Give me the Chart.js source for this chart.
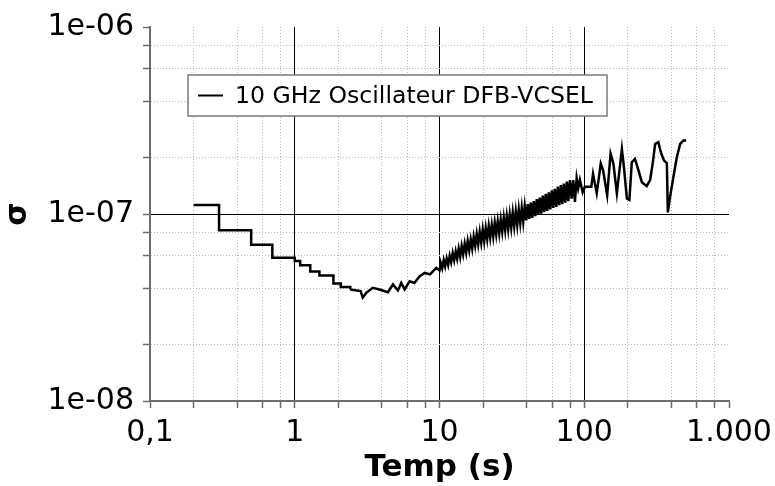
<!DOCTYPE html>
<html>
<head>
<meta charset="utf-8">
<script src="https://cdn.jsdelivr.net/npm/chart.js@4"></script>
<style>
  html, body { margin: 0; padding: 0; background: #fff; }
  #wrap { width: 775px; height: 486px; }
</style>
</head>
<body>
<div id="wrap"><canvas id="chart" width="775" height="486"></canvas></div>
<script>
const seriesLabel = '10 GHz Oscillateur DFB-VCSEL';

// short averaging times: value held until the next tau (staircase)
const tauStep = [0.2, 0.3, 0.5, 0.7, 1.0, 1.09, 1.28, 1.48, 1.85, 2.08, 2.42];
const sigmaStep = [1.116e-7, 0.818e-7, 0.685e-7, 0.584e-7, 0.561e-7, 0.532e-7, 0.493e-7, 0.469e-7, 0.425e-7, 0.407e-7, 0.395e-7];

// rest of the curve
const tauMain = [2.85, 2.95, 3.12, 3.46, 3.85, 4.4, 4.77, 5.16, 5.44, 5.74, 6.22, 6.7, 7.3, 7.9, 8.6, 9.5, 10.0,
  10.19, 10.44, 10.69, 10.94, 11.21, 11.48, 11.76, 12.04, 12.33, 12.63, 12.94, 13.25, 13.57, 13.90, 14.23, 14.58,
  14.93, 15.29, 15.66, 16.04, 16.43, 16.83, 17.23, 17.65, 18.08, 18.51, 18.96, 19.42, 19.89, 20.37, 20.86, 21.37,
  21.88, 22.41, 22.95, 23.51, 24.08, 24.66, 25.26, 25.87, 26.49, 27.13, 27.79, 28.46, 29.15, 29.85, 30.57, 31.31,
  32.07, 32.84, 33.64, 34.45, 35.28, 36.14, 37.01, 37.90, 38.82, 39.76, 40.72, 41.70, 42.71, 43.75, 44.80, 45.89,
  47.00, 48.13, 49.30, 50.49, 51.71, 52.96, 54.24, 55.55, 56.90, 58.27, 59.68, 61.13, 62.61, 64.12, 65.67, 67.26,
  68.89, 70.55, 72.26, 74.01, 75.80, 77.63,
  79.6, 81.8, 83.9, 86.2, 88.6, 90.8, 93.3, 97.5, 101, 112, 115, 122, 130, 135, 144, 152, 159, 168, 182, 188, 197, 205,
  213, 224, 237, 250, 270, 285, 297, 309, 325, 338, 356, 372, 378, 392, 413, 436, 460, 484, 506];
const sigmaMain = [0.387e-7, 0.357e-7, 0.379e-7, 0.403e-7, 0.395e-7, 0.382e-7, 0.42e-7, 0.39e-7, 0.428e-7, 0.395e-7,
  0.437e-7, 0.428e-7, 0.465e-7, 0.484e-7, 0.475e-7, 0.515e-7, 0.499e-7,
  0.548e-7, 0.513e-7, 0.567e-7, 0.524e-7, 0.579e-7, 0.535e-7, 0.598e-7, 0.553e-7, 0.618e-7, 0.565e-7, 0.631e-7, 0.577e-7,
  0.653e-7, 0.589e-7, 0.675e-7, 0.609e-7, 0.693e-7, 0.622e-7, 0.717e-7, 0.639e-7, 0.732e-7, 0.653e-7, 0.756e-7, 0.675e-7,
  0.782e-7, 0.689e-7, 0.803e-7, 0.703e-7, 0.826e-7, 0.715e-7, 0.841e-7, 0.734e-7, 0.863e-7, 0.748e-7, 0.874e-7, 0.758e-7,
  0.897e-7, 0.777e-7, 0.914e-7, 0.787e-7, 0.932e-7, 0.803e-7, 0.956e-7, 0.818e-7, 0.974e-7, 0.829e-7, 0.993e-7, 0.845e-7,
  1.018e-7, 0.861e-7, 1.032e-7, 0.873e-7, 1.058e-7, 0.895e-7, 1.079e-7, 0.907e-7, 1.100e-7, 0.924e-7, 1.128e-7, 0.942e-7,
  1.149e-7, 0.954e-7, 1.172e-7, 0.973e-7, 1.202e-7, 0.992e-7, 1.225e-7, 1.005e-7, 1.256e-7, 1.024e-7, 1.281e-7, 1.038e-7,
  1.305e-7, 1.058e-7, 1.339e-7, 1.078e-7, 1.365e-7, 1.092e-7, 1.400e-7, 1.114e-7, 1.427e-7, 1.128e-7, 1.454e-7, 1.150e-7,
  1.491e-7, 1.172e-7,
  1.52e-7, 1.21e-7, 1.52e-7, 1.16e-7, 1.55e-7, 1.37e-7, 1.52e-7, 1.31e-7, 1.40e-7, 1.40e-7, 1.64e-7, 1.29e-7, 1.86e-7,
  1.71e-7, 1.26e-7, 2.10e-7, 1.86e-7, 1.29e-7, 2.23e-7, 1.78e-7, 1.21e-7, 1.19e-7, 1.89e-7, 1.97e-7, 1.71e-7, 1.48e-7,
  1.41e-7, 1.52e-7, 1.86e-7, 2.37e-7, 2.42e-7, 2.14e-7, 1.93e-7, 1.87e-7, 1.02e-7, 1.24e-7, 1.58e-7, 2.01e-7, 2.37e-7,
  2.47e-7, 2.47e-7];

const xDecades = [0.1, 1, 10, 100, 1000];
const xTickLabels = ['0,1', '1', '10', '100', '1.000'];
const yDecades = [1e-8, 1e-7, 1e-6];
const yTickLabels = ['1e-08', '1e-07', '1e-06'];
const minorSteps = [2, 4, 6, 8];

const FONT = '"DejaVu Sans", Verdana, sans-serif';

function makeTicks(decades, labels) {
  const out = [];
  decades.forEach((d, i) => {
    const edge = i === 0 || i === decades.length - 1;
    out.push({ value: d, major: true, edge: edge, text: labels[i] });
    if (i < decades.length - 1) {
      minorSteps.forEach(m => out.push({ value: d * m, major: false, edge: false, text: '' }));
    }
  });
  return out;
}

function gridColor(c) {
  const t = c.tick;
  if (!t || t.edge) return 'rgba(0,0,0,0)';
  return t.major ? '#000' : '#b9b9b9';
}
function gridDash(c) {
  return c.tick && !c.tick.major ? [1, 2] : [];
}

const stepData = tauStep.map((t, i) => ({ x: t, y: sigmaStep[i] }));
const mainData = [stepData[stepData.length - 1]].concat(tauMain.map((t, i) => ({ x: t, y: sigmaMain[i] })));

const legendBox = {
  id: 'legendBox',
  afterDraw(chart) {
    const ctx = chart.ctx;
    const a = chart.chartArea;
    ctx.save();
    ctx.font = '23.6px ' + FONT;
    const tw = ctx.measureText(seriesLabel).width;
    const x = a.left + 38, y = a.top + 48, h = 41;
    const w = 10 + 25 + 12 + tw + 14;
    ctx.fillStyle = '#fff';
    ctx.fillRect(x, y, w, h);
    ctx.strokeStyle = '#7a7a7a';
    ctx.lineWidth = 1.5;
    ctx.strokeRect(x, y, w, h);
    ctx.strokeStyle = '#000';
    ctx.lineWidth = 2;
    ctx.beginPath();
    ctx.moveTo(x + 10, y + h / 2);
    ctx.lineTo(x + 35, y + h / 2);
    ctx.stroke();
    ctx.fillStyle = '#000';
    ctx.textBaseline = 'middle';
    ctx.fillText(seriesLabel, x + 47, y + h / 2 + 1);
    ctx.restore();
  }
};

new Chart(document.getElementById('chart'), {
  type: 'line',
  data: {
    datasets: [
      {
        label: seriesLabel,
        data: stepData,
        stepped: true,
        borderColor: '#000',
        borderWidth: 2.5,
        pointRadius: 0,
        fill: false
      },
      {
        label: seriesLabel,
        data: mainData,
        borderColor: '#000',
        borderWidth: 2.5,
        pointRadius: 0,
        tension: 0,
        fill: false
      }
    ]
  },
  options: {
    responsive: false,
    animation: false,
    layout: { padding: { top: 24, right: 46, left: 0, bottom: 0 } },
    plugins: {
      legend: { display: false },
      tooltip: { enabled: false }
    },
    scales: {
      x: {
        type: 'logarithmic',
        min: 0.1,
        max: 1000,
        afterBuildTicks: (s) => { s.ticks = makeTicks(xDecades, xTickLabels); },
        afterFit: (s) => { s.height = 85; s.paddingRight = 0; },
        ticks: {
          autoSkip: false,
          maxRotation: 0,
          padding: 7,
          color: '#000',
          font: { family: FONT, size: 30 },
          callback: (v, i, t) => t[i].text
        },
        grid: { color: gridColor, lineWidth: 1, tickLength: 7, tickColor: '#6e6e6e', tickWidth: 1.5 },
        border: { color: '#6e6e6e', width: 2, dash: gridDash },
        title: {
          display: true,
          text: 'Temp (s)',
          color: '#000',
          font: { family: FONT, size: 31, weight: 'bold' },
          padding: { top: 0, bottom: -1 }
        }
      },
      y: {
        type: 'logarithmic',
        min: 1e-8,
        max: 1e-6,
        afterBuildTicks: (s) => { s.ticks = makeTicks(yDecades, yTickLabels); },
        afterFit: (s) => { s.width = 150; },
        ticks: {
          autoSkip: false,
          padding: 9,
          color: '#000',
          font: { family: FONT, size: 30 },
          callback: (v, i, t) => t[i].text
        },
        grid: { color: gridColor, lineWidth: 1, tickLength: 7, tickColor: '#6e6e6e', tickWidth: 1.5 },
        border: { color: '#6e6e6e', width: 2, dash: gridDash },
        title: {
          display: true,
          text: 'σ',
          color: '#000',
          font: { family: FONT, size: 30, weight: 'bold' },
          padding: { top: 0, bottom: 0 }
        }
      }
    }
  },
  plugins: [legendBox]
});
</script>
</body>
</html>
